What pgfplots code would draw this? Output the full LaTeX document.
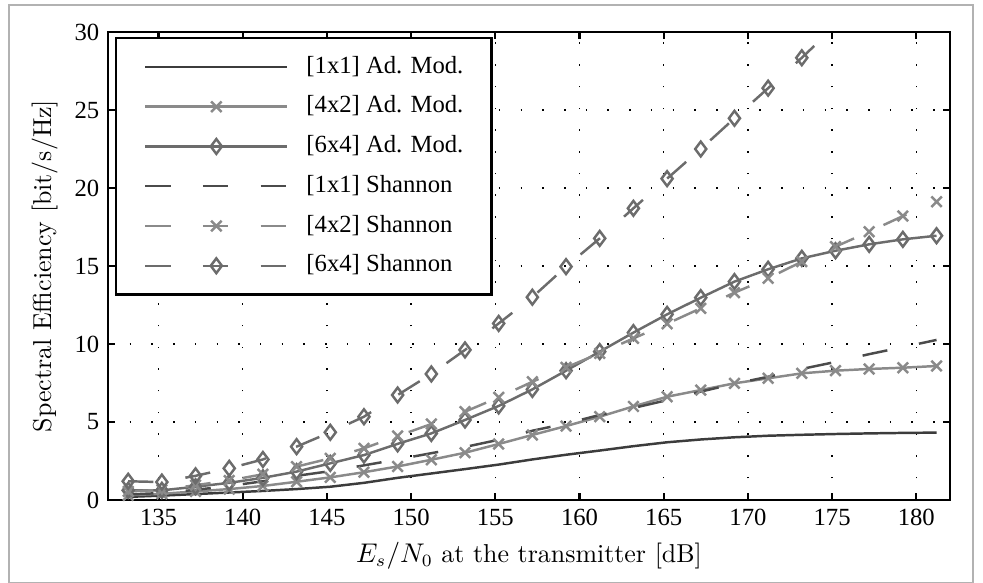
\documentclass[border=0pt]{standalone}
\usepackage{fontspec}
\usepackage{pgfplots}
\pgfplotsset{compat=1.18}
\newfontfamily\timesfont{Liberation Serif}
\definecolor{cOne}{RGB}{60,60,60}
\definecolor{cOneS}{RGB}{75,75,75}
\definecolor{cTwo}{RGB}{138,138,138}
\definecolor{cSix}{RGB}{108,108,108}

\begin{document}
\begin{tikzpicture}
\useasboundingbox (-1.538,-1.182) rectangle (12.462,7.121);
\draw[gray!60, line width=0.5pt] (-1.410,-1.175) rectangle (12.319,7.050);
\begin{axis}[
  scale only axis, width=11.992cm, height=6.665cm,
  xmin=132, xmax=182, ymin=0, ymax=30,
  xtick={135,140,...,180}, ytick={0,5,...,30},
  tick align=inside, major tick length=0.1cm,
  axis line style={line width=0.9pt},
  tick style={line width=0.9pt, black},
  grid=major,
  major grid style={black, line width=0.6pt, dash pattern=on 0.6pt off 8.2pt},
  ticklabel style={font=\fontsize{10}{12}\selectfont\timesfont},
  /pgf/number format/assume math mode=true,
  label style={font=\fontsize{10.5}{12}\selectfont},
  xlabel={$E_s/N_0$ at the transmitter [dB]},
  ylabel={Spectral Efficiency [bit/s/Hz]},
  every axis plot/.append style={line width=1pt, mark size=3pt, mark options={solid}},
  legend image code/.code={\draw[mark repeat=2, mark phase=2] plot coordinates {(0cm,0cm) (1.01cm,0cm) (2.02cm,0cm)};},
  legend style={at={(0.0083,0.989)}, anchor=north west,
    font=\fontsize{10}{12}\selectfont\timesfont,
    draw=black, line width=0.9pt, inner xsep=0.4cm, inner ysep=0.25cm,
    row sep=0.25cm, column sep=0.256cm,
    nodes={inner sep=0pt, text height=7pt, text depth=2pt}},
  legend cell align=left,
]
% [1x1] adaptive modulation
\addplot[cOne] coordinates {
(133.2,0.20) (135.2,0.28) (137.2,0.38) (139.2,0.48) (141.2,0.58)
(143.2,0.70) (145.2,0.85) (147.2,1.10) (149.2,1.42) (151.2,1.70)
(153.2,1.98) (155.2,2.27) (157.2,2.60) (159.2,2.90) (161.2,3.17)
(163.2,3.45) (165.2,3.70) (167.2,3.88) (169.2,4.02) (171.2,4.12)
(173.2,4.18) (175.2,4.23) (177.2,4.27) (179.2,4.30) (181.2,4.32)};
\addlegendentry{{[1x1]} Ad. Mod.}
% [4x2] adaptive modulation
\addplot[cTwo, mark=x] coordinates {
(133.2,0.30) (135.2,0.40) (137.2,0.55) (139.2,0.70) (141.2,0.90)
(143.2,1.17) (145.2,1.45) (147.2,1.78) (149.2,2.15) (151.2,2.58)
(153.2,3.03) (155.2,3.59) (157.2,4.17) (159.2,4.74) (161.2,5.34)
(163.2,6.00) (165.2,6.62) (167.2,7.05) (169.2,7.48) (171.2,7.80)
(173.2,8.12) (175.2,8.29) (177.2,8.40) (179.2,8.48) (181.2,8.59)};
\addlegendentry{{[4x2]} Ad. Mod.}
% [6x4] adaptive modulation
\addplot[cSix, mark=diamond] coordinates {
(133.2,0.62) (135.2,0.62) (137.2,0.85) (139.2,1.10) (141.2,1.42)
(143.2,1.82) (145.2,2.35) (147.2,2.88) (149.2,3.60) (151.2,4.27)
(153.2,5.13) (155.2,6.03) (157.2,7.09) (159.2,8.29) (161.2,9.51)
(163.2,10.73) (165.2,11.90) (167.2,12.97) (169.2,14.00) (171.2,14.79)
(173.2,15.49) (175.2,15.98) (177.2,16.39) (179.2,16.71) (181.2,16.94)};
\addlegendentry{{[6x4]} Ad. Mod.}
% [1x1] Shannon
\addplot[cOneS, dash pattern=on 0.36cm off 0.46cm] coordinates {
(133.2,0.35) (135.2,0.45) (137.2,0.65) (139.2,0.90) (141.2,1.20)
(143.2,1.55) (145.2,1.85) (147.2,2.22) (149.2,2.60) (151.2,3.00)
(153.2,3.40) (155.2,3.86) (157.2,4.44) (159.2,4.90) (161.2,5.45)
(163.2,5.90) (165.2,6.40) (167.2,6.95) (169.2,7.45) (171.2,7.90)
(173.2,8.40) (175.2,8.85) (177.2,9.35) (179.2,9.80) (181.2,10.26)};
\addlegendentry{{[1x1]} Shannon}
% [4x2] Shannon
\addplot[cTwo, mark=x, dash pattern=on 0.36cm off 0.46cm] coordinates {
(133.2,0.55) (135.2,0.65) (137.2,0.95) (139.2,1.25) (141.2,1.65)
(143.2,2.14) (145.2,2.67) (147.2,3.31) (149.2,4.10) (151.2,4.87)
(153.2,5.66) (155.2,6.58) (157.2,7.58) (159.2,8.50) (161.2,9.40)
(163.2,10.36) (165.2,11.30) (167.2,12.29) (169.2,13.29) (171.2,14.21)
(173.2,15.28) (175.2,16.24) (177.2,17.20) (179.2,18.20) (181.2,19.12)};
\addlegendentry{{[4x2]} Shannon}
% [6x4] Shannon
\addplot[cSix, mark=diamond, dash pattern=on 0.36cm off 0.46cm] coordinates {
(133.2,1.20) (135.2,1.15) (137.2,1.55) (139.2,2.03) (141.2,2.60)
(143.2,3.42) (145.2,4.34) (147.2,5.34) (149.2,6.73) (151.2,8.08)
(153.2,9.62) (155.2,11.32) (157.2,13.00) (159.2,14.96) (161.2,16.77)
(163.2,18.70) (165.2,20.60) (167.2,22.50) (169.2,24.47) (171.2,26.40)
(173.2,28.35) (175.2,30.40)};
\addlegendentry{{[6x4]} Shannon}
\end{axis}
\end{tikzpicture}
\end{document}
